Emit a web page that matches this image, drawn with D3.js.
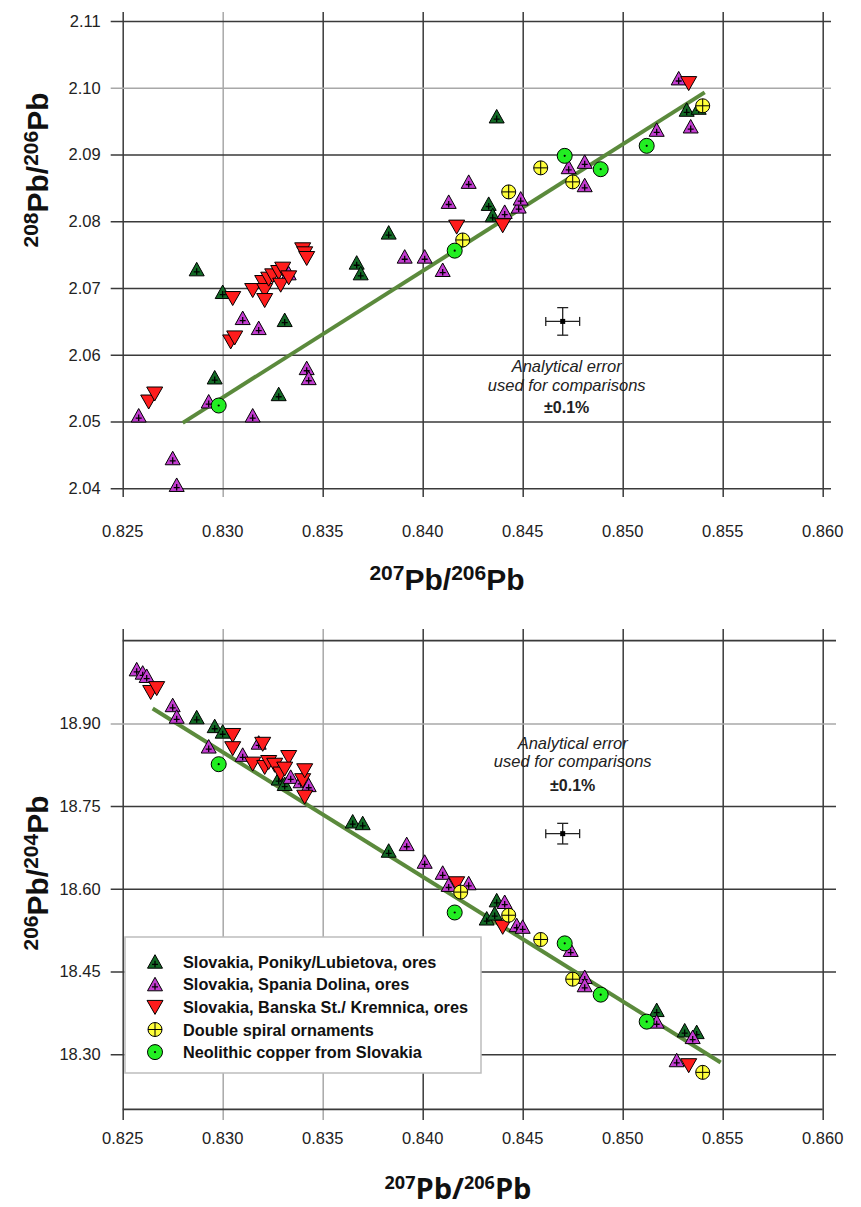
<!DOCTYPE html>
<html>
<head>
<meta charset="utf-8">
<script src="https://cdn.jsdelivr.net/npm/d3@7"></script>
<style>
  body { margin: 0; background: #fff; }
  text { font-family: "Liberation Sans", Arial, sans-serif; }
</style>
</head>
<body>
<svg id="chart" width="861" height="1207"></svg>
<script>
// ---- data ----
var xTicks = [0.825, 0.830, 0.835, 0.840, 0.845, 0.850, 0.855, 0.860];
var topYTicks = [2.04, 2.05, 2.06, 2.07, 2.08, 2.09, 2.10, 2.11];
var botYTicks = [18.30, 18.45, 18.60, 18.75, 18.90];

var seriesNames = [
  'Slovakia, Poniky/Lubietova, ores',
  'Slovakia, Spania Dolina, ores',
  'Slovakia, Banska St./ Kremnica, ores',
  'Double spiral ornaments',
  'Neolithic copper from Slovakia'
];

// 207Pb/206Pb vs 208Pb/206Pb
var ponikyTop = [[0.8287, 2.0728], [0.8300, 2.0694], [0.8296, 2.0566], [0.8331, 2.0652], [0.8328, 2.0541],
  [0.8367, 2.0738], [0.8369, 2.0722], [0.8383, 2.0783], [0.8433, 2.0826], [0.8435, 2.0809],
  [0.8437, 2.0957], [0.8532, 2.0967], [0.8538, 2.0970]];
var spaniaTop = [[0.8258, 2.0509], [0.8275, 2.0445], [0.8277, 2.0405], [0.8293, 2.0530], [0.8310, 2.0655],
  [0.8318, 2.0640], [0.8315, 2.0509], [0.8333, 2.0722], [0.8342, 2.0580], [0.8343, 2.0565],
  [0.8391, 2.0747], [0.8401, 2.0747], [0.8410, 2.0727], [0.8413, 2.0829], [0.8423, 2.0859],
  [0.8441, 2.0814], [0.8448, 2.0822], [0.8449, 2.0834], [0.8473, 2.0881], [0.8481, 2.0889],
  [0.8481, 2.0854], [0.8517, 2.0937], [0.8528, 2.1014], [0.8534, 2.0942]];
var banskaTop = [[0.8263, 2.0530], [0.8266, 2.0542], [0.8304, 2.0620], [0.8306, 2.0626], [0.8305, 2.0685],
  [0.8315, 2.0697], [0.8320, 2.0709], [0.8321, 2.0697], [0.8321, 2.0682], [0.8323, 2.0714],
  [0.8325, 2.0719], [0.8328, 2.0724], [0.8329, 2.0705], [0.8330, 2.0729], [0.8333, 2.0716],
  [0.8340, 2.0758], [0.8341, 2.0752], [0.8342, 2.0745], [0.8417, 2.0792], [0.8440, 2.0794],
  [0.8533, 2.1007]];
var spiralTop = [[0.8420, 2.0772], [0.8443, 2.0844], [0.8459, 2.0880], [0.8475, 2.0859], [0.8540, 2.0973]];
var neolithicTop = [[0.8298, 2.0524], [0.8416, 2.0756], [0.8471, 2.0898], [0.8489, 2.0878], [0.8512, 2.0913]];
var fitTop = [[0.8280, 2.0498], [0.8541, 2.0993]];
var errCentreTop = [0.847, 2.065];

// 207Pb/206Pb vs 206Pb/204Pb
var ponikyBot = [[0.8287, 18.911], [0.8296, 18.895], [0.8300, 18.885], [0.8328, 18.800], [0.8331, 18.790],
  [0.8365, 18.722], [0.8370, 18.719], [0.8383, 18.669], [0.8432, 18.546], [0.8436, 18.555],
  [0.8437, 18.579], [0.8517, 18.380], [0.8531, 18.343], [0.8537, 18.340]];
var spaniaBot = [[0.8257, 18.998], [0.8260, 18.992], [0.8262, 18.986], [0.8275, 18.933], [0.8277, 18.912],
  [0.8293, 18.858], [0.8310, 18.843], [0.8318, 18.865], [0.8334, 18.803], [0.8339, 18.795],
  [0.8343, 18.788], [0.8392, 18.681], [0.8401, 18.649], [0.8410, 18.629], [0.8413, 18.607],
  [0.8423, 18.610], [0.8441, 18.576], [0.8447, 18.534], [0.8450, 18.531], [0.8474, 18.489],
  [0.8481, 18.440], [0.8481, 18.425], [0.8517, 18.359], [0.8527, 18.289], [0.8535, 18.331]];
var banskaBot = [[0.8264, 18.957], [0.8267, 18.964], [0.8305, 18.879], [0.8305, 18.855], [0.8315, 18.827],
  [0.8320, 18.863], [0.8321, 18.821], [0.8323, 18.830], [0.8326, 18.825], [0.8329, 18.809],
  [0.8333, 18.839], [0.8331, 18.818], [0.8340, 18.797], [0.8341, 18.815], [0.8341, 18.767],
  [0.8417, 18.610], [0.8440, 18.531], [0.8533, 18.280]];
var spiralBot = [[0.8419, 18.594], [0.8443, 18.552], [0.8459, 18.508], [0.8475, 18.436], [0.8540, 18.267]];
var neolithicBot = [[0.8298, 18.826], [0.8416, 18.557], [0.8471, 18.501], [0.8489, 18.408], [0.8512, 18.359]];
var fitBot = [[0.8265, 18.927], [0.8549, 18.285]];
var errCentreBot = [0.847, 18.70];

var relError = 0.001; // ±0.1%

// ---- styling ----
var kinds = ['poniky', 'spania', 'banska', 'spiral', 'neolithic'];
var fills = {
  poniky: '#136a26',
  spania: '#c23cd0',
  banska: '#ff1c1c',
  spiral: '#ffff3a',
  neolithic: '#22ee22'
};
var gridDark = '#3a3a3a', gridLight = '#a8a8a8';

var svg = d3.select('#chart');
var x = d3.scaleLinear().domain([0.825, 0.860]).range([122.7, 822.7]);
var yTop = d3.scaleLinear().domain([2.04, 2.11]).range([488.3, 21]);
var yBot = d3.scaleLinear().domain([18.2, 19.05]).range([1109.3, 640.7]);

function drawSymbol(g, kind) {
  if (kind === 'poniky' || kind === 'spania') {
    g.append('path').attr('d', 'M0,-7L7.5,6.5L-7.5,6.5Z')
      .attr('fill', fills[kind]).attr('stroke', '#000').attr('stroke-width', 1);
    g.append('path').attr('d', 'M0,-1V5.5M-3,2.6H3')
      .attr('stroke', '#000').attr('stroke-width', 1.3).attr('fill', 'none');
  } else if (kind === 'banska') {
    g.append('path').attr('d', 'M-8,-6.5L8,-6.5L0,7.5Z')
      .attr('fill', fills[kind]).attr('stroke', '#000').attr('stroke-width', 1);
  } else if (kind === 'spiral') {
    g.append('circle').attr('r', 7)
      .attr('fill', fills[kind]).attr('stroke', '#000').attr('stroke-width', 1);
    g.append('path').attr('d', 'M0,-7V7M-7,0H7')
      .attr('stroke', '#000').attr('stroke-width', 1).attr('fill', 'none');
  } else {
    g.append('circle').attr('r', 7.5)
      .attr('fill', fills[kind]).attr('stroke', '#000').attr('stroke-width', 1);
    g.append('circle').attr('r', 1.1).attr('fill', '#000');
  }
}

// superscripted isotope ratio label, e.g. 207Pb/206Pb
function isoText(sel, a, b, big, small, raise) {
  sel.append('tspan').attr('font-size', small).attr('dy', -raise).text(a);
  sel.append('tspan').attr('font-size', big).attr('dy', raise).text('Pb/');
  sel.append('tspan').attr('font-size', small).attr('dy', -raise).text(b);
  sel.append('tspan').attr('font-size', big).attr('dy', raise).text('Pb');
}

function panel(opt) {
  var y = opt.y;
  var g = svg.append('g');

  // grid lines via the library's axes
  var gx = g.append('g').attr('transform', 'translate(0,' + opt.gridBottom + ')')
    .call(d3.axisBottom(x).tickValues(xTicks).tickFormat(d3.format('.3f')).tickSize(0));
  gx.select('.domain').remove();
  gx.selectAll('.tick line')
    .attr('y1', 0).attr('y2', -(opt.gridBottom - opt.gridTop))
    .attr('stroke', function (d) { return opt.lightX.indexOf(d) >= 0 ? gridLight : gridDark; })
    .attr('stroke-width', 1.5);
  gx.selectAll('.tick text').remove();

  var gy = g.append('g').attr('transform', 'translate(122.7,0)')
    .call(d3.axisLeft(y).tickValues(opt.yTicks).tickFormat(d3.format('.2f')).tickSize(0).tickPadding(22));
  gy.select('.domain').remove();
  gy.selectAll('.tick line')
    .attr('x1', -12).attr('x2', opt.gridRight - 122.7)
    .attr('stroke', function (d) { return opt.lightY.indexOf(d) >= 0 ? gridLight : gridDark; })
    .attr('stroke-width', 1.5);
  gy.selectAll('.tick text')
    .attr('font-size', 16.5).attr('fill', '#222').attr('font-family', '"Liberation Sans", Arial, sans-serif');

  // frame lines
  opt.frame.forEach(function (f) {
    g.append('line').attr('x1', x(f[0])).attr('x2', f[3] || x(f[1]))
      .attr('y1', y(f[2])).attr('y2', y(f[2]))
      .attr('stroke', gridDark).attr('stroke-width', 1.8);
  });

  // x tick labels
  g.append('g').selectAll('text').data(xTicks).join('text')
    .attr('x', function (d) { return x(d); }).attr('y', opt.xLabelY)
    .attr('text-anchor', 'middle').attr('font-size', 16.5).attr('fill', '#222')
    .text(d3.format('.3f'));

  // fitted line
  g.append('path').datum(opt.fit)
    .attr('d', d3.line().x(function (d) { return x(d[0]); }).y(function (d) { return y(d[1]); }))
    .attr('stroke', '#5b8a3c').attr('stroke-width', 4).attr('fill', 'none');

  // error cross
  var ex = opt.err[0], ey = opt.err[1];
  var dx = ex * relError, dy = ey * relError;
  var eg = g.append('g').attr('stroke', '#222').attr('stroke-width', 1.3);
  eg.append('line').attr('x1', x(ex - dx)).attr('x2', x(ex + dx)).attr('y1', y(ey)).attr('y2', y(ey));
  eg.append('line').attr('x1', x(ex)).attr('x2', x(ex)).attr('y1', y(ey - dy)).attr('y2', y(ey + dy));
  [ex - dx, ex + dx].forEach(function (v) {
    eg.append('line').attr('x1', x(v)).attr('x2', x(v)).attr('y1', y(ey) - 4.5).attr('y2', y(ey) + 4.5);
  });
  [ey - dy, ey + dy].forEach(function (v) {
    eg.append('line').attr('x1', x(ex) - 5.5).attr('x2', x(ex) + 5.5).attr('y1', y(v)).attr('y2', y(v));
  });
  g.append('rect').attr('x', x(ex) - 2.5).attr('y', y(ey) - 2.5).attr('width', 5).attr('height', 5).attr('fill', '#000');

  var tx = x(ex) + opt.noteDx;
  var note = g.append('g').attr('text-anchor', 'middle').attr('fill', '#222');
  note.append('text').attr('x', tx).attr('y', y(ey) + opt.noteDy[0])
    .attr('font-size', 16.5).attr('font-style', 'italic').text('Analytical error');
  note.append('text').attr('x', tx).attr('y', y(ey) + opt.noteDy[1])
    .attr('font-size', 16.5).attr('font-style', 'italic').text('used for comparisons');
  note.append('text').attr('x', tx).attr('y', y(ey) + opt.noteDy[2])
    .attr('font-size', 16).attr('font-weight', 'bold').text('±0.1%');

  // points
  var pts = g.append('g');
  opt.series.forEach(function (data, i) {
    pts.append('g').selectAll('g').data(data).join('g')
      .attr('transform', function (d) { return 'translate(' + x(d[0]) + ',' + y(d[1]) + ')'; })
      .each(function () { drawSymbol(d3.select(this), kinds[i]); });
  });
  return g;
}

panel({
  y: yTop, yTicks: topYTicks, gridTop: 12, gridBottom: 497, gridRight: 831,
  lightX: [0.830], lightY: [2.10], frame: [], xLabelY: 537,
  fit: fitTop, err: errCentreTop, noteDx: 4, noteDy: [51, 69.5, 92],
  series: [ponikyTop, spaniaTop, banskaTop, spiralTop, neolithicTop]
});

var bottom = panel({
  y: yBot, yTicks: botYTicks, gridTop: 629, gridBottom: 1120, gridRight: 836,
  lightX: [0.830, 0.835], lightY: [18.90], xLabelY: 1144,
  frame: [[0.825, 0.860, 19.05, 836], [0.825, 0.860, 18.2]],
  fit: fitBot, err: errCentreBot, noteDx: 10, noteDy: [-85, -67, -43],
  series: [ponikyBot, spaniaBot, banskaBot, spiralBot, neolithicBot]
});

// legend (covers the grid)
var lg = bottom.append('g');
lg.append('rect').attr('x', 125).attr('y', 937).attr('width', 356).attr('height', 136)
  .attr('fill', '#fff').attr('stroke', '#bdbdbd').attr('stroke-width', 1.5);
var rows = lg.selectAll('g.row').data(seriesNames).join('g').attr('class', 'row')
  .attr('transform', function (d, i) { return 'translate(155,' + (961.7 + i * 22.6) + ')'; });
rows.each(function (d, i) { drawSymbol(d3.select(this), kinds[i]); });
rows.append('text').attr('x', 28).attr('y', 6)
  .attr('font-size', 16.3).attr('font-weight', 'bold').attr('fill', '#111').text(function (d) { return d; });

// axis titles
var t1 = svg.append('text').attr('x', 447).attr('y', 590).attr('text-anchor', 'middle')
  .attr('font-weight', 'bold').attr('fill', '#111');
isoText(t1, '207', '206', 30, 21, 10);

var t2 = svg.append('text').attr('x', 458).attr('y', 1199).attr('text-anchor', 'middle')
  .attr('font-weight', 'bold').attr('fill', '#111').style('font-family', '"Open Sans", sans-serif');
isoText(t2, '207', '206', 29, 18, 10);

var t3 = svg.append('text').attr('transform', 'translate(48,170) rotate(-90)').attr('text-anchor', 'middle')
  .attr('font-weight', 'bold').attr('fill', '#111');
isoText(t3, '208', '206', 30, 21, 10);

var t4 = svg.append('text').attr('transform', 'translate(48,873) rotate(-90)').attr('text-anchor', 'middle')
  .attr('font-weight', 'bold').attr('fill', '#111');
isoText(t4, '206', '204', 30, 21, 10);
</script>
</body>
</html>
